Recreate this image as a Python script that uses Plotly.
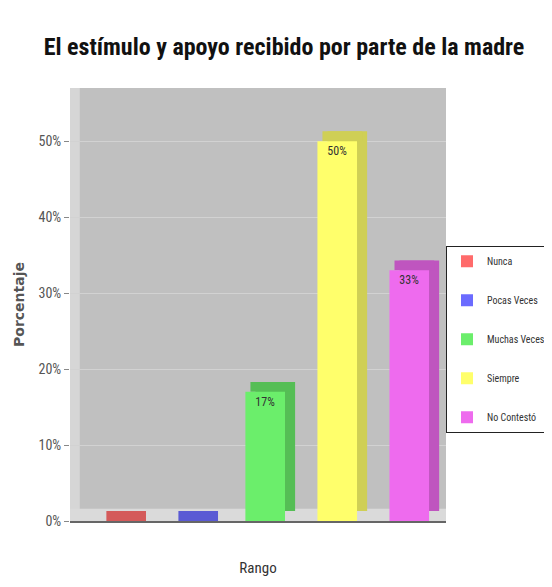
import plotly.graph_objects as go

# ---------------------------------------------------------
# Data
# ---------------------------------------------------------
categories = ["Nunca", "Pocas Veces", "Muchas Veces", "Siempre", "No Contestó"]
values = [0, 0, 17, 50, 33]
labels = ["", "", "17%", "50%", "33%"]
y_ticks = [0, 10, 20, 30, 40, 50]
y_tick_text = ["0%", "10%", "20%", "30%", "40%", "50%"]

# Colours: front face, shaded side/top
FRONT = ["#ff6b6b", "#6b6bff", "#6bee6b", "#ffff6b", "#ee6bee"]
SHADE = ["#d45a5a", "#5a5ad4", "#55be55", "#cfcf55", "#bf55bf"]

NARROW = "Roboto Condensed, DejaVu Sans Condensed, sans-serif"
BAR_W = 0.55
DX = 0.14      # fake 3D depth, x units
DY = 1.3       # fake 3D depth, y units

xs = list(range(len(categories)))

fig = go.Figure()

# shaded extrusion (side + top), drawn behind the front faces
for i, cat in enumerate(categories):
    fig.add_trace(go.Bar(
        x=[xs[i]], y=[values[i]], base=[DY],
        width=BAR_W, offset=-BAR_W / 2 + DX,
        marker=dict(color=SHADE[i], line=dict(width=0)),
        showlegend=False, hoverinfo="skip",
    ))
    fig.add_trace(go.Bar(
        x=[xs[i]], y=[DY], base=[values[i]],
        width=BAR_W, offset=-BAR_W / 2 + DX / 2,
        marker=dict(color=SHADE[i], line=dict(width=0)),
        showlegend=False, hoverinfo="skip",
    ))

# front faces
for i, cat in enumerate(categories):
    fig.add_trace(go.Bar(
        x=[xs[i]], y=[values[i]],
        width=BAR_W, offset=-BAR_W / 2,
        name=cat, legendgroup=cat,
        marker=dict(color=FRONT[i], line=dict(width=0)),
        text=[labels[i]], textposition="inside", insidetextanchor="end",
        textangle=0, textfont=dict(family=NARROW, size=12, color="#333333"),
    ))

fig.update_layout(
    barmode="overlay",
    width=552, height=587,
    paper_bgcolor="white",
    plot_bgcolor="#c0c0c0",
    margin=dict(l=62, r=114, t=80, b=74, autoexpand=False),
    title=dict(
        text="<b>El estímulo y apoyo recibido por parte de la madre</b>",
        font=dict(family=NARROW, size=24, color="#111111"),
        x=0.5, xanchor="center", y=0.935, yanchor="middle",
    ),
    legend=dict(
        x=1.0, xanchor="left", y=0.42, yanchor="middle",
        bgcolor="white", bordercolor="#222222", borderwidth=1,
        font=dict(family=NARROW, size=10, color="#333333"),
        tracegroupgap=20, itemwidth=30,
    ),
    shapes=[
        # left wall
        dict(type="rect", xref="paper", yref="paper", x0=0, x1=0.026, y0=0, y1=1,
             fillcolor="#d6d6d6", line=dict(width=0), layer="below"),
        # floor
        dict(type="rect", xref="paper", yref="y", x0=0, x1=1, y0=0, y1=1.6,
             fillcolor="#dadada", line=dict(width=0), layer="below"),
    ],
)

fig.update_xaxes(
    range=[-0.71, 4.51], showticklabels=False, showgrid=False, zeroline=False,
    showline=True, linecolor="#666666", linewidth=2,
    title=dict(text="Rango", font=dict(family=NARROW, size=15, color="#333333"), standoff=40),
)
fig.update_yaxes(
    range=[0, 57], tickvals=y_ticks, ticktext=y_tick_text,
    tickfont=dict(family=NARROW, size=14, color="#555555"),
    ticks="outside", ticklen=5, tickcolor="#888888",
    showgrid=True, gridcolor="#d2d2d2", gridwidth=1, zeroline=False,
    title=dict(text="<b>Porcentaje</b>", font=dict(family="DejaVu Sans", size=14, color="#555555"), standoff=10),
)

fig.write_html("out.html")
